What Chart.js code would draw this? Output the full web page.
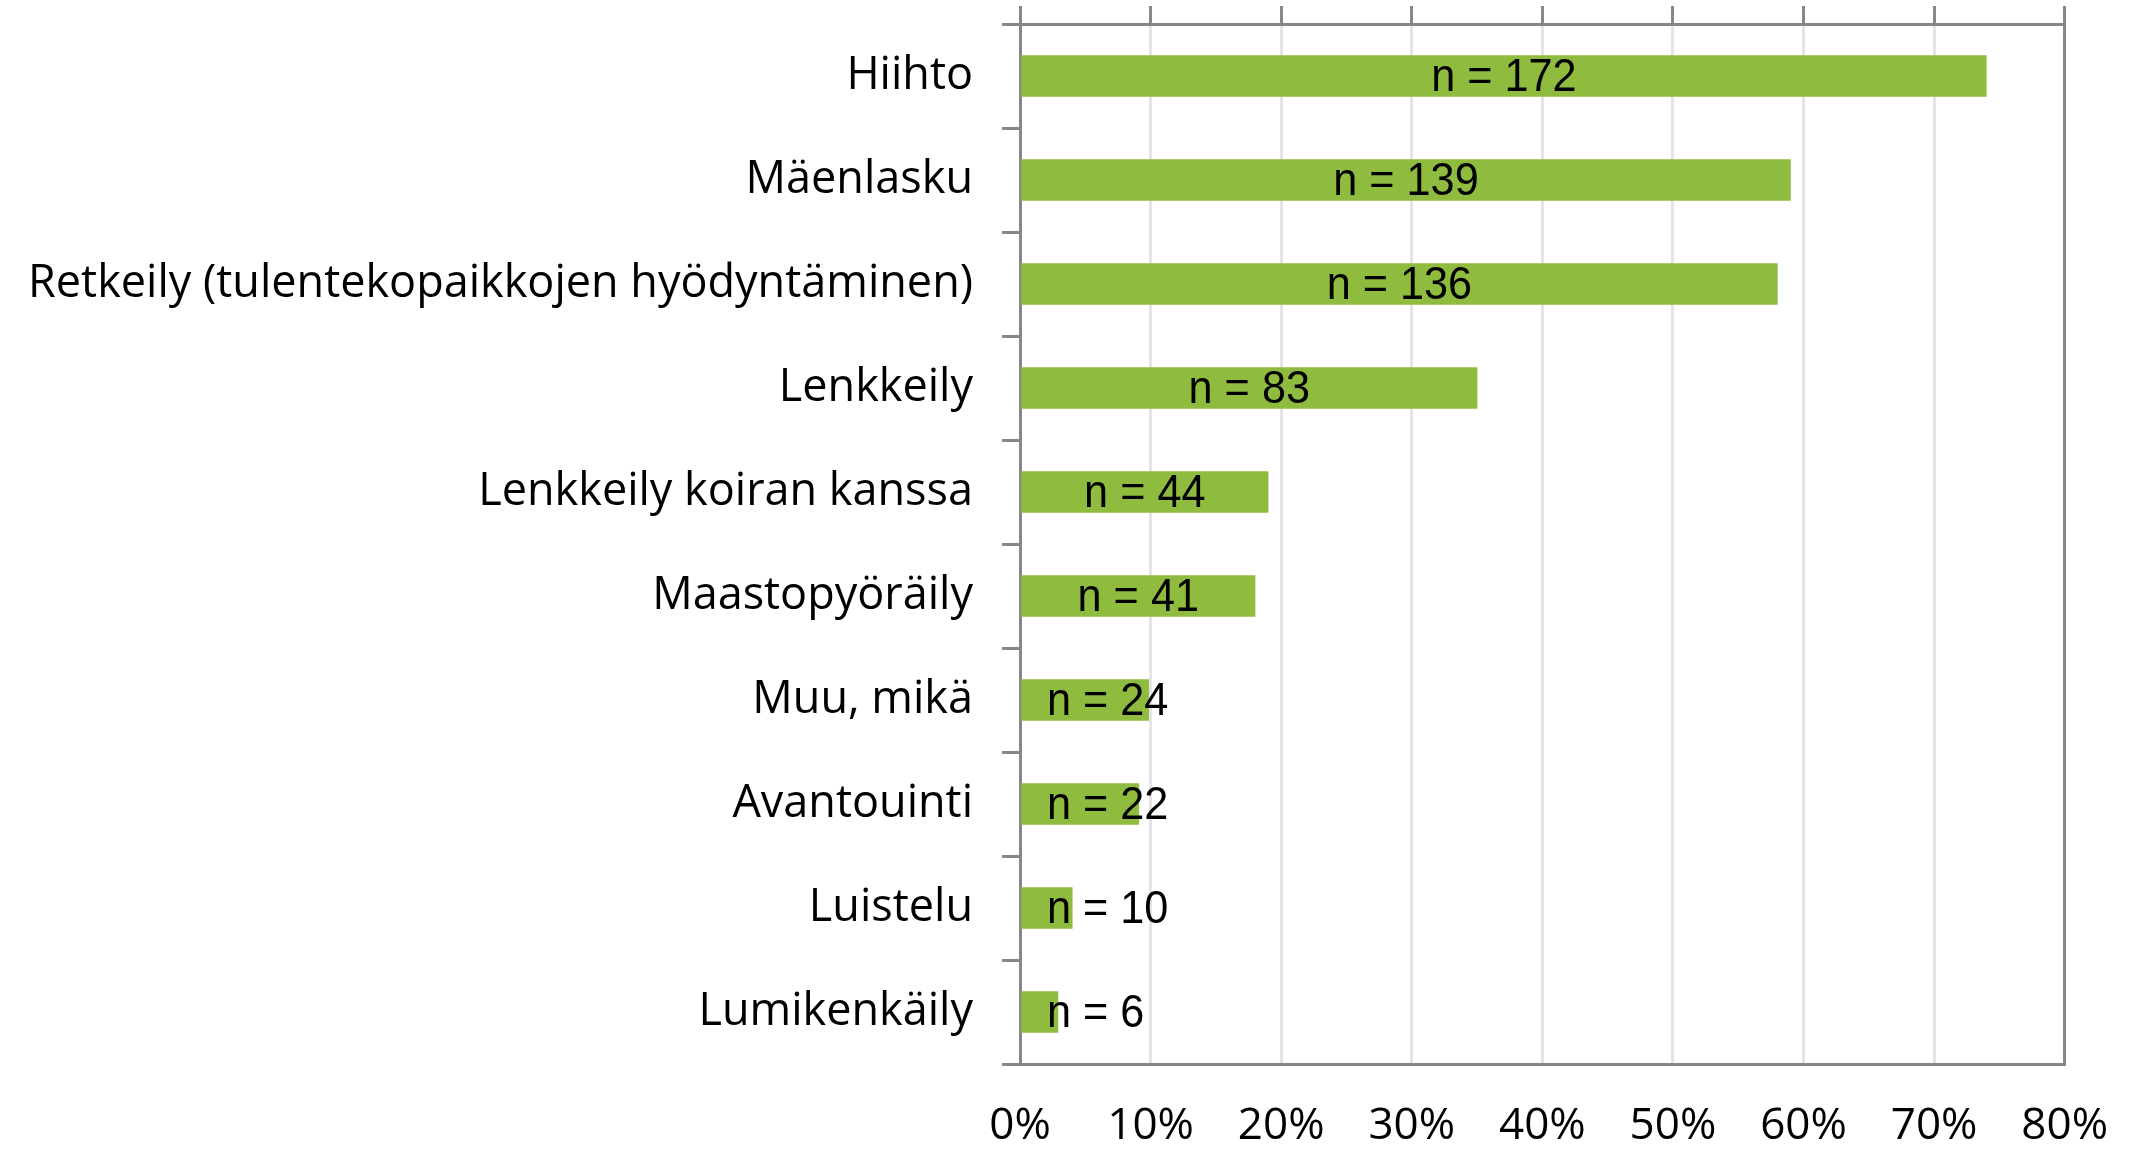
<!DOCTYPE html>
<html lang="fi">
<head>
    <meta charset="UTF-8">
    <title>Talviliikunta</title>
    <script src="https://cdn.jsdelivr.net/npm/chart.js"></script>
    <style>
        html, body {
            margin: 0;
            padding: 0;
            background: #fff;
        }
        #wrap {
            width: 2144px;
            height: 1149px;
        }
    </style>
</head>
<body>
    <div id="wrap">
        <canvas id="activityChart" width="2144" height="1149"></canvas>
    </div>

    <script>
        // Data
        const categories = [
            'Hiihto',
            'Mäenlasku',
            'Retkeily (tulentekopaikkojen hyödyntäminen)',
            'Lenkkeily',
            'Lenkkeily koiran kanssa',
            'Maastopyöräily',
            'Muu, mikä',
            'Avantouinti',
            'Luistelu',
            'Lumikenkäily'
        ];
        const shares = [74.0, 59.0, 58.0, 35.0, 19.0, 18.0, 9.85, 9.1, 4.0, 2.9];
        const counts = [172, 139, 136, 83, 44, 41, 24, 22, 10, 6];

        const axisGray = '#878787';
        const gridGray = '#e4e4e4';
        const barGreen = '#8fbb3f';

        // "n = ..." labels, centred in the bar but kept off the axis
        // (drawn a bit narrow, like the original condensed font)
        const countLabels = {
            id: 'countLabels',
            afterDatasetsDraw(chart) {
                const ctx = chart.ctx;
                const meta = chart.getDatasetMeta(0);
                const left = chart.chartArea.left;
                const squeeze = 0.92;
                ctx.save();
                ctx.font = '47px "Liberation Sans", Arial, sans-serif';
                ctx.fillStyle = '#000';
                ctx.textBaseline = 'middle';
                ctx.textAlign = 'left';
                meta.data.forEach((bar, i) => {
                    const text = 'n = ' + counts[i];
                    const w = ctx.measureText(text).width * squeeze;
                    const centre = (bar.base + bar.x) / 2;
                    const x = Math.max(centre - w / 2, left + 27);
                    ctx.save();
                    ctx.translate(x, bar.y + 2);
                    ctx.scale(squeeze, 1);
                    ctx.fillText(text, 0, 0);
                    ctx.restore();
                });
                ctx.restore();
            }
        };

        new Chart(document.getElementById('activityChart'), {
            type: 'bar',
            data: {
                labels: categories,
                datasets: [{
                    data: shares,
                    backgroundColor: barGreen,
                    borderWidth: 0,
                    barThickness: 41
                }]
            },
            plugins: [countLabels],
            options: {
                indexAxis: 'y',
                responsive: false,
                animation: false,
                layout: { padding: 0 },
                plugins: {
                    legend: { display: false },
                    tooltip: { enabled: false }
                },
                scales: {
                    x: {
                        position: 'bottom',
                        min: 0,
                        max: 80,
                        afterFit(scale) { scale.height = 85; },
                        ticks: {
                            stepSize: 10,
                            padding: 36,
                            color: '#000',
                            font: { family: '"Open Sans", sans-serif', size: 44 },
                            callback: v => v + '%'
                        },
                        grid: {
                            color: gridGray,
                            lineWidth: 3,
                            drawTicks: false
                        },
                        border: { color: axisGray, width: 3 }
                    },
                    x2: {
                        position: 'top',
                        min: 0,
                        max: 80,
                        afterFit(scale) { scale.height = 24; },
                        ticks: {
                            stepSize: 10,
                            display: false
                        },
                        grid: {
                            drawOnChartArea: false,
                            color: axisGray,
                            lineWidth: 3,
                            tickLength: 18
                        },
                        border: { color: axisGray, width: 3 }
                    },
                    y: {
                        position: 'left',
                        afterFit(scale) {
                            scale.width = 1020;
                            scale.paddingTop = 0;
                            scale.paddingBottom = 0;
                        },
                        ticks: {
                            padding: 29,
                            color: '#000',
                            font: { family: '"Open Sans", sans-serif', size: 45 }
                        },
                        grid: {
                            offset: true,
                            drawOnChartArea: false,
                            color: axisGray,
                            lineWidth: 3,
                            tickLength: 18
                        },
                        border: { color: axisGray, width: 3 }
                    },
                    y2: {
                        type: 'linear',
                        position: 'right',
                        afterFit(scale) {
                            scale.width = 77;
                            scale.paddingTop = 0;
                            scale.paddingBottom = 0;
                        },
                        ticks: { display: false },
                        grid: { drawOnChartArea: false, drawTicks: false },
                        border: { color: axisGray, width: 3 }
                    }
                }
            }
        });
    </script>
</body>
</html>
